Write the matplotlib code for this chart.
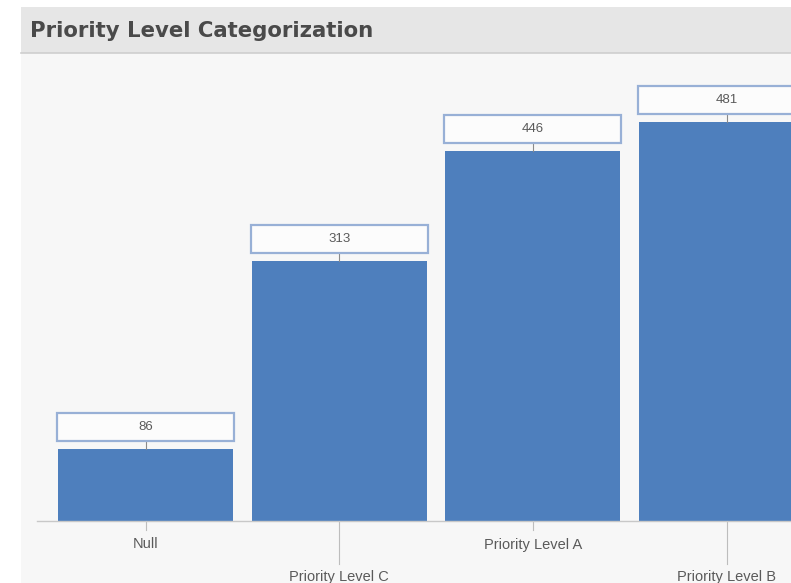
import matplotlib
matplotlib.use("Agg")
import matplotlib.pyplot as plt
from matplotlib.patches import Rectangle
from matplotlib.lines import Line2D

categories = ["Null", "Priority Level C", "Priority Level A", "Priority Level B"]
values = [86, 313, 446, 481]
title = "Priority Level Categorization"

W, H = 791, 583
fig = plt.figure(figsize=(W / 100, H / 100), dpi=100)
fig.patch.set_facecolor("white")

def fx(px):
    return px / W

def fy(py):
    return 1 - py / H

# panel background
fig.patches.append(Rectangle((fx(21), 0), 1 - fx(21), fy(53), transform=fig.transFigure,
                             facecolor="#f7f7f7", edgecolor="none", zorder=-2))
# header band
fig.patches.append(Rectangle((fx(21), fy(53)), 1 - fx(21), fy(7) - fy(53), transform=fig.transFigure,
                             facecolor="#e6e6e6", edgecolor="none", zorder=-2))
fig.lines.append(Line2D([fx(21), 1], [fy(53), fy(53)], transform=fig.transFigure,
                        color="#cfcfcf", lw=1.2, zorder=-1))
fig.text(fx(30), fy(31), title, fontsize=15.3, fontweight="bold", color="#4a4a4a",
         family="DejaVu Sans", va="center", ha="left")

ax_left, ax_right, ax_top, ax_bot = 37, 791, 53, 520.5
ax = fig.add_axes([fx(ax_left), fy(ax_bot), fx(ax_right - ax_left), (ax_bot - ax_top) / H])
ax.set_facecolor("none")

pitch = 193.7
c0 = 145.5
ax.set_xlim(-(c0 - ax_left) / pitch, (ax_right - c0) / pitch)
px_per_unit = 0.829
ymax = (ax_bot - ax_top) / px_per_unit
ax.set_ylim(0, ymax)

x = list(range(len(categories)))
ax.bar(x, values, width=0.903, color="#4e7fbd", zorder=2)

for s in ["top", "right", "left"]:
    ax.spines[s].set_visible(False)
ax.spines["bottom"].set_color("#c8c8c8")
ax.spines["bottom"].set_linewidth(1)
ax.set_yticks([])
ax.set_xticks([])

# value label boxes
gap = 8 / px_per_unit
bh = 28 / px_per_unit
for xi, v in zip(x, values):
    ax.add_patch(Rectangle((xi - 0.457, v + gap), 0.914, bh, facecolor="#fcfcfc",
                           edgecolor="#98b0d6", lw=1.6, zorder=3, clip_on=False))
    ax.plot([xi, xi], [v, v + gap], color="#8a8a8a", lw=0.8, zorder=2)
    ax.text(xi, v + gap + bh / 2, f"{v}", ha="center", va="center", fontsize=9.5,
            color="#5a5a5a", family="Liberation Sans", zorder=4)

# staggered category labels
xt = ax.get_xaxis_transform()
for i, (xi, lab) in enumerate(zip(x, categories)):
    if i % 2 == 0:
        tick_len, lab_y = 9, 24
    else:
        tick_len, lab_y = 43, 56
    ax.plot([xi, xi], [0, -tick_len / (ax_bot - ax_top)], transform=xt, color="#bdbdbd",
            lw=0.8, clip_on=False)
    ax.text(xi, -lab_y / (ax_bot - ax_top), lab, transform=xt, ha="center", va="center",
            fontsize=10.5, color="#5a5a5a", family="Liberation Sans", clip_on=False)

fig.savefig("out.png", dpi=100)
